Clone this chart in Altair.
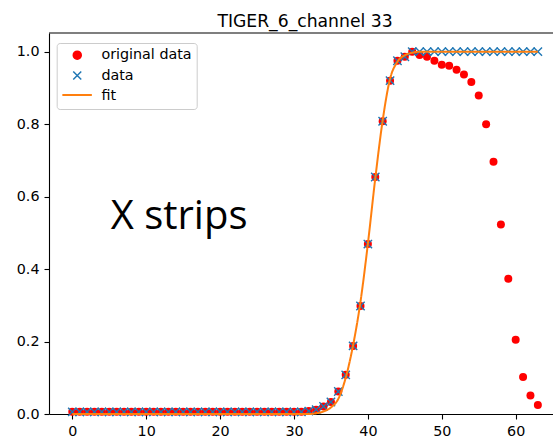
import altair as alt
import pandas as pd

# ---- data ----
x_vals = list(range(64))

original_data = [0.006] * 30 + [
    0.006, 0.006, 0.008, 0.012, 0.021, 0.033, 0.062, 0.108, 0.188, 0.298,  # 30-39
    0.469, 0.654, 0.808, 0.920, 0.975, 0.986, 1.000, 0.991, 0.986, 0.975,  # 40-49
    0.964, 0.961, 0.950, 0.937, 0.916, 0.879, 0.800, 0.696, 0.523, 0.373,  # 50-59
    0.205, 0.102, 0.051, 0.025,                                            # 60-63
]
data_vals = original_data[:46] + [1.0] * 18
fit_vals = [0.0] * 33 + [
    0.002, 0.007, 0.018, 0.042, 0.100, 0.190, 0.310,  # 33-39
    0.470, 0.650, 0.810, 0.925, 0.972, 0.990, 0.997,  # 40-46
] + [1.0] * 17

series_names = ["original data", "data", "fit"]
series_colors = ["#ff0000", "#1f77b4", "#ff7f0e"]
series_shapes = ["circle", "M-1,-1L1,1M-1,1L1,-1", "M0,0"]

x_ticks = [0, 10, 20, 30, 40, 50, 60]
y_ticks = [0.0, 0.2, 0.4, 0.6, 0.8, 1.0]
x_domain = [-3.15, 65.05]
y_domain = [0.0, 1.0515]

title_text = "TIGER_6_channel 33"
note_text = ["X strips"]
note_x = [5.2]
note_y = [0.51]

W, H = 504, 381

df_orig = pd.DataFrame({"x": x_vals, "y": original_data, "series": series_names[0]})
df_data = pd.DataFrame({"x": x_vals, "y": data_vals, "series": series_names[1]})
df_fit = pd.DataFrame({"x": x_vals, "y": fit_vals, "fitline": series_names[2]})
df_note = pd.DataFrame({"x": note_x, "y": note_y, "text": note_text})

color_scale = alt.Scale(domain=series_names, range=series_colors)
shape_scale = alt.Scale(domain=series_names, range=series_shapes)

legend_main = alt.Legend(
    title=None,
    orient="none",
    legendX=7.7,
    legendY=10,
    symbolSize=64,
    symbolOffset=8.4,
    labelOffset=17,
    rowPadding=5.4,
    padding=5,
    fillColor="rgba(255,255,255,0.8)",
    strokeColor="#cccccc",
    cornerRadius=3,
    labelFont="DejaVu Sans",
    labelFontSize=14.3,
    labelColor="#000000",
    symbolStrokeWidth=1.5,
    symbolOpacity=1,
    zindex=1,
)

legend_line = alt.Legend(
    title=None,
    orient="none",
    legendX=12.1,
    legendY=46,
    symbolType="stroke",
    symbolSize=870,
    symbolStrokeWidth=2,
    symbolStrokeColor="#ff7f0e",
    symbolOpacity=1,
    labelExpr="''",
    labelOffset=0,
    padding=0,
    zindex=2,
)

xenc = alt.X("x:Q", scale=alt.Scale(domain=x_domain, nice=False, zero=False),
             axis=alt.Axis(values=x_ticks, title=None, labelPadding=5.5))
yenc = alt.Y("y:Q", scale=alt.Scale(domain=y_domain, nice=False),
             axis=alt.Axis(values=y_ticks, format=".1f", title=None, labelPadding=5))

orig_layer = alt.Chart(df_orig).mark_point(filled=True, size=64, opacity=1).encode(
    x=xenc, y=yenc,
    color=alt.Color("series:N", scale=color_scale, legend=legend_main),
    shape=alt.Shape("series:N", scale=shape_scale, legend=legend_main),
)
data_layer = alt.Chart(df_data).mark_point(filled=False, size=70, strokeWidth=1.4, opacity=1).encode(
    x=xenc, y=yenc,
    color=alt.Color("series:N", scale=color_scale, legend=legend_main),
    shape=alt.Shape("series:N", scale=shape_scale, legend=legend_main),
)
fit_layer = alt.Chart(df_fit).mark_line(strokeWidth=2, interpolate="monotone", color="#ff7f0e").encode(
    x=xenc, y=yenc,
    strokeDash=alt.StrokeDash("fitline:N", scale=alt.Scale(domain=[series_names[2]], range=[[1, 0]]),
                              legend=legend_line),
)
note_layer = alt.Chart(df_note).mark_text(
    align="left", baseline="alphabetic", font="Open Sans", fontSize=40, color="#000000"
).encode(x=xenc, y=yenc, text="text:N")

top_spine = alt.Chart(pd.DataFrame({"a": [0]})).mark_rule(color="#000000", strokeWidth=1.1).encode(
    x=alt.value(0), x2=alt.value(W), y=alt.value(0)
)

chart = alt.layer(orig_layer, data_layer, fit_layer, note_layer, top_spine).properties(
    width=W,
    height=H,
    title=alt.TitleParams(title_text, font="DejaVu Sans", fontSize=17.2, fontWeight="normal",
                          color="#000000", offset=7, dx=4, dy=19, baseline="alphabetic"),
    autosize=alt.AutoSizeParams(type="none"),
    padding={"left": 49, "top": 33, "right": 0, "bottom": 22},
    background="white",
).configure_view(stroke=None).configure_axis(
    labelFont="DejaVu Sans", labelFontSize=14.3, labelColor="#000000",
    tickColor="#000000", domainColor="#000000", tickSize=5, tickWidth=1.1,
    domainWidth=1.1, grid=False,
)

chart.save("out.html", embed_options={"renderer": "svg", "actions": False})
